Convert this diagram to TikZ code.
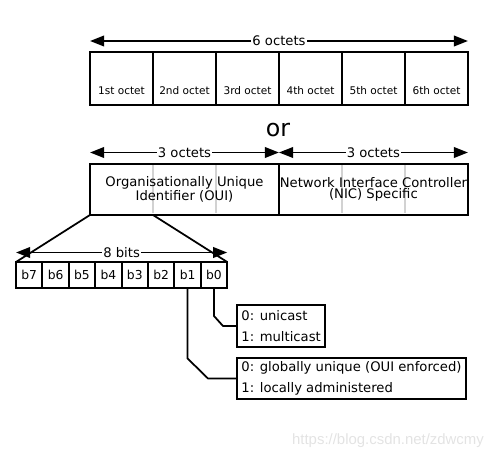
\documentclass[tikz,border=0pt]{standalone}
\usepackage{fontspec}
\setmainfont{DejaVu Sans}
\newfontfamily\markfont{Liberation Sans}
\usetikzlibrary{calc, positioning}
\usetikzlibrary{arrows.meta}

\begin{document}
\begin{tikzpicture}[x=0.02cm, y=-0.02cm,
  font=\fontsize{7.5}{9}\selectfont,
  box/.style={draw, line width=1.1pt, inner sep=0pt, outer sep=0pt},
  octcell/.style={box, minimum width=1.26cm, minimum height=1.06cm},
  octlbl/.style={inner sep=0pt, font=\fontsize{6}{7}\selectfont},
  bitcell/.style={box, minimum width=0.528cm, minimum height=0.52cm, font=\fontsize{7}{8}\selectfont},
  span/.style={{Triangle[length=8pt, width=6pt]}-{Triangle[length=8pt, width=6pt]}, line width=1.1pt},
  spanlbl/.style={fill=white, inner sep=0.6pt},
  divider/.style={gray!35, line width=0.7pt},
  flagbox/.style={box, align=left, inner xsep=2.5pt, font=\fontsize{7.5}{11.7}\selectfont},
  wire/.style={line width=1pt}
]
\useasboundingbox (0,0) rectangle (500,462);

% six octets
\foreach \n/\lbl in {1/1st, 2/2nd, 3/3rd, 4/4th, 5/5th, 6/6th} {
  \node[octcell, anchor=north west] (o\n) at ({90+63*(\n-1)},52) {};
  \node[octlbl] (ol\n) at ([yshift=0.28cm]o\n.south) {\lbl\ octet};
}
\coordinate (sixL) at ([yshift=0.22cm]o1.north west);
\coordinate (sixR) at ([yshift=0.22cm]o6.north east);
\draw[span] (sixL) -- (sixR) node[midway, spanlbl] (sixlbl) {6 octets};

\node[font=\fontsize{13.5}{16}\selectfont, inner sep=0pt] (or) at (278,130) {or};

% OUI + NIC
\node[box, minimum width=3.78cm, minimum height=1.02cm, anchor=north west] (oui) at (90,164) {};
\node[box, minimum width=3.78cm, minimum height=1.02cm, right=0pt of oui] (nic) {};
\foreach \nd in {oui, nic}
  \foreach \f in {1, 2}
    \draw[divider] ($(\nd.north west)!\f/3!(\nd.north east)+(0,1.5)$) -- ($(\nd.south west)!\f/3!(\nd.south east)+(0,-1.5)$);
\node[align=center, font=\fontsize{7.5}{6.6}\selectfont] (ouitxt) at (oui.center) {Organisationally Unique\\Identifier (OUI)};
\node[align=center, font=\fontsize{7.5}{6.6}\selectfont] (nictxt) at (nic.center) {Network Interface Controller\\(NIC) Specific};

\coordinate (ouiL) at ([yshift=0.23cm]oui.north west);
\coordinate (mid) at ([yshift=0.23cm]oui.north east);
\coordinate (nicR) at ([yshift=0.23cm]nic.north east);
\draw[span] (ouiL) -- (mid) node[midway, spanlbl] (ouilbl) {3 octets};
\draw[span] (mid) -- (nicR) node[midway, spanlbl] (niclbl) {3 octets};

% first octet, bit by bit
\foreach \b [count=\i from 0] in {7,6,5,4,3,2,1,0}
  \node[bitcell, anchor=north west] (b\b) at ({16+26.4*\i},262) {b\b};

\coordinate (ouiq) at ($(oui.south west)!1/3!(oui.south east)$);
\draw[wire] (oui.south west) -- (b7.north west);
\draw[wire] (ouiq) -- (b0.north east);

\coordinate (bitL) at ([yshift=0.19cm]b7.north west);
\coordinate (bitR) at ([yshift=0.19cm]b0.north east);
\draw[span] (bitL) -- (bitR) node[midway, spanlbl] (bitlbl) {8 bits};

% flag meanings
\node[flagbox, minimum width=1.68cm, minimum height=0.84cm, anchor=north west] (cast) at (237,305) {0: unicast\\1: multicast};
\node[flagbox, minimum width=4.58cm, minimum height=0.82cm, anchor=north west] (scope) at (237,358) {0: globally unique (OUI enforced)\\1: locally administered};

\draw[wire] (b0.south) -- ($(b0.south |- cast.west)+(0,-10)$) -- ($(cast.west)+(-14,0)$) -- (cast.west);
\draw[wire] (b1.south) -- ($(b1.south |- scope.west)+(0,-20)$) -- ($(scope.west)+(-29,0)$) -- (scope.west);

\node[text=gray!22, font=\markfont\fontsize{8.5}{10}\selectfont] (mark) at (388,441) {https://blog.csdn.net/zdwcmy};
\end{tikzpicture}
\end{document}
